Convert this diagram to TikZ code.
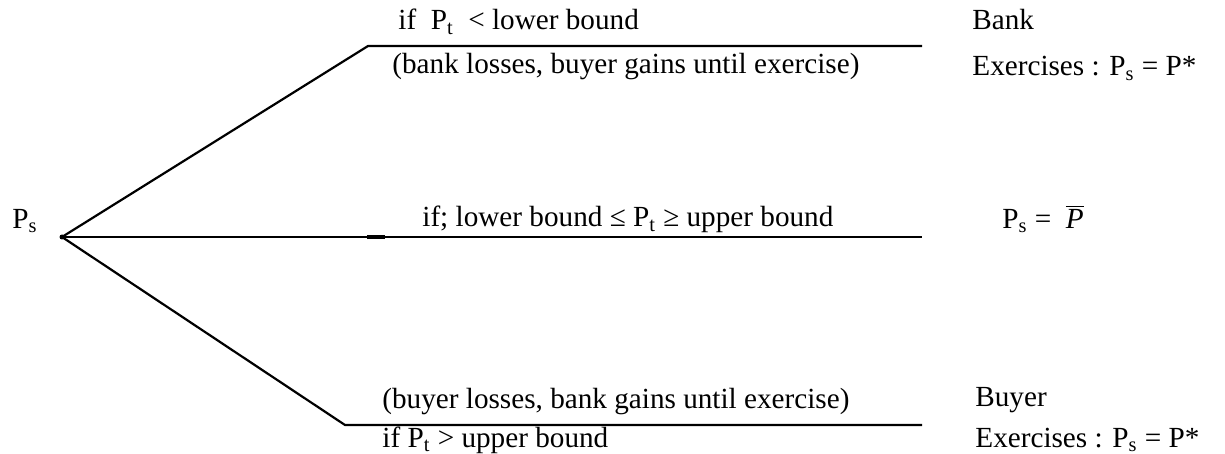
\documentclass[tikz,border=0pt]{standalone}
\usepackage{fontspec}
\setmainfont{Liberation Serif}
\usepackage{tikz}

\begin{document}
\begin{tikzpicture}[x=0.5pt,y=-0.5pt,
  every node/.style={inner sep=0pt,anchor=base west,font=\fontsize{14.6}{18}\selectfont},
  branch/.style={line width=1.1pt}]

\useasboundingbox (0,0) rectangle (1225,454);

 \coordinate (root) at (62,237);
  \coordinate (u1) at (368,46);
   \coordinate (u2) at (922,46);
    \coordinate (m2) at (922,237);
     \coordinate (d1) at (345,425);
      \coordinate (d2) at (922,425);
       \coordinate (m0) at (367,237);
        \coordinate (m1) at (385,237);

 \node (ps) at (12,228) {P\textsubscript{s}};

 \node (uif) at (398,30) {if\ \ P\textsubscript{t}\ \ < lower bound};
  \node (uloss) at (392,74) {(bank losses, buyer gains until exercise)};
   \node (bank) at (972,30) {Bank};
    \node (bankex) at (972,76) {Exercises : P\textsubscript{s} = P*};

 \node (mif) at (422,227) {if; lower bound ≤ P\textsubscript{t} ≥ upper bound};
  \node (pbar) at (1002,228) {P\textsubscript{s} = \ $\overline{\mbox{\itshape P}}$};

 \node (dloss) at (382,408) {(buyer losses, bank gains until exercise)};
  \node (dif) at (382,447) {if P\textsubscript{t} > upper bound};
   \node (buyer) at (975,406) {Buyer};
    \node (buyerex) at (975,447) {Exercises : P\textsubscript{s} = P*};

 \draw[branch] (root) -- (u1) -- (u2);
 \draw[branch] (root) -- (m2);
 \draw[line width=1.8pt] (m0) -- (m1);
 \draw[branch] (root) -- (d1) -- (d2);
 \fill (root) circle (2.5);

\end{tikzpicture}
\end{document}
